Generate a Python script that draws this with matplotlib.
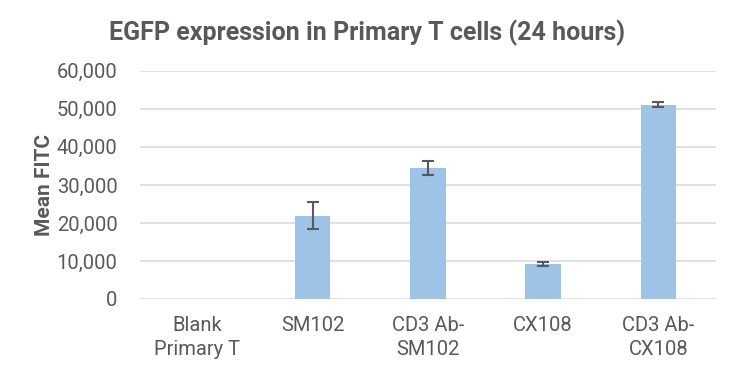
import matplotlib
matplotlib.use('Agg')
import matplotlib.pyplot as plt
from matplotlib.ticker import FuncFormatter

plt.rcParams['font.family'] = ['Roboto', 'DejaVu Sans']

categories = ['Blank\nPrimary T', 'SM102', 'CD3 Ab-\nSM102', 'CX108', 'CD3 Ab-\nCX108']
mean_fitc = [0, 21900, 34500, 9200, 51100]
errors = [0, 3550, 1900, 500, 700]

text_grey = '#595959'

fig = plt.figure(figsize=(7.39, 3.77), dpi=100)
ax = fig.add_axes([0.189, 0.207, 0.78, 0.605])

x = range(len(categories))
ax.bar(x, mean_fitc, width=0.31, color='#9DC3E6', zorder=2)
# no error bar for the blank
ax.errorbar(list(x)[1:], mean_fitc[1:], yerr=errors[1:], fmt='none',
            ecolor=text_grey, elinewidth=1.5, capsize=4, capthick=1.5, zorder=3)

ax.set_xlim(-0.5, len(categories) - 0.5)
ax.set_ylim(0, 60000)
ax.set_yticks(range(0, 60001, 10000))
ax.yaxis.set_major_formatter(FuncFormatter(lambda v, p: '{:,.0f}'.format(v)))
ax.set_xticks(list(x))
ax.set_xticklabels(categories, linespacing=1.35)

ax.grid(axis='y', color='#D9D9D9', linewidth=1.1, zorder=0)
for side in ['top', 'right', 'left', 'bottom']:
    ax.spines[side].set_visible(False)
ax.tick_params(axis='both', length=0, labelsize=14.5, labelcolor=text_grey)
ax.tick_params(axis='x', pad=12)
ax.tick_params(axis='y', pad=16)

ax.set_ylabel('Mean FITC', fontsize=15, fontweight='bold', color=text_grey, labelpad=2)
fig.text(0.497, 0.912, 'EGFP expression in Primary T cells (24 hours)',
         ha='center', va='center', fontsize=18, fontweight='bold', color=text_grey)

plt.savefig('out.png', dpi=100)
